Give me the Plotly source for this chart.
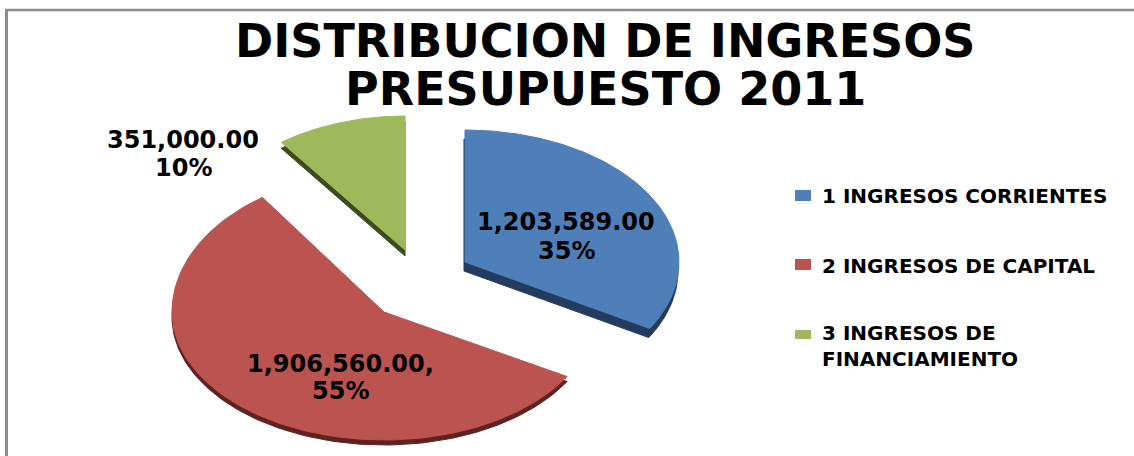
import numpy as np
import plotly.graph_objects as go

categories = ["1 INGRESOS CORRIENTES", "2 INGRESOS DE CAPITAL", "3 INGRESOS DE<br>FINANCIAMIENTO"]
values = [1203589.0, 1906560.0, 351000.0]
percent_labels = ["35%", "55%", "10%"]
label_suffix = ["", ",", ""]
title_lines = ["DISTRIBUCION DE INGRESOS", "PRESUPUESTO 2011"]

face_colors = ["#4F7FB8", "#BB5350", "#9DB95C"]
side_colors = ["#223B5E", "#5E2220", "#3F4A20"]
# slice geometry in plot units: centre, x radius, upper and lower y radius
ellipse = [(465, 262, 214, 132, 132), (384, 312, 212, 140, 128), (405, 250, 208, 134, 134)]
# angular skew (degrees) applied on the right and left half of the turn
skew = [(6.0, 6.0), (6.0, 2.5), (0.0, 0.0)]
depth = [(-1, 9), (0, 5), (0, 6)]
label_x = [566, 340, 183]
label_y = [(222, 251), (364, 391), (140, 168)]
legend_y = [196, 266, 346]
swatch_h = [(190, 201), (259, 270), (330, 339)]

fracs = np.array(values) / sum(values)
edges = np.concatenate([[0.0], np.cumsum(fracs) * 360.0])


def wedge(i, dx=0.0, dy=0.0):
    cx, cy, a, b_up, b_low = ellipse[i]
    t = np.radians(np.linspace(edges[i], edges[i + 1], 160))
    k = np.where(np.sin(t) >= 0, skew[i][0], skew[i][1])
    t = t - np.radians(k) * np.sin(t)
    xs = cx + a * np.sin(t) + dx
    ys = cy - np.where(np.cos(t) >= 0, b_up, b_low) * np.cos(t) + dy
    return np.r_[cx + dx, xs, cx + dx], np.r_[cy + dy, ys, cy + dy]


def bold(text):
    return "<br>".join(f"<b>{part}</b>" for part in text.split("<br>"))


fig = go.Figure()
for i in range(3):
    x, y = wedge(i, *depth[i])
    fig.add_trace(go.Scatter(x=x, y=y, mode="lines", fill="toself", fillcolor=side_colors[i],
                             line=dict(color=side_colors[i], width=1), hoverinfo="skip", showlegend=False))
for i in range(3):
    x, y = wedge(i)
    fig.add_trace(go.Scatter(x=x, y=y, mode="lines", fill="toself", fillcolor=face_colors[i],
                             line=dict(color=face_colors[i], width=1), name=categories[i], showlegend=False))

ann = []
for i in range(3):
    lines = [f"{values[i]:,.2f}{label_suffix[i]}", percent_labels[i]]
    for line, ly in zip(lines, label_y[i]):
        ann.append(dict(x=label_x[i], y=ly, text=f"<b>{line}</b>",
                        showarrow=False, xanchor="center", yanchor="middle",
                        font=dict(family="DejaVu Sans", size=24, color="#000000")))
    ann.append(dict(x=820, y=legend_y[i], text=bold(categories[i]),
                    showarrow=False, xanchor="left", yanchor="middle", align="left",
                    font=dict(family="DejaVu Sans", size=20, color="#000000")))
for line, ty in zip(title_lines, [41, 89]):
    ann.append(dict(x=605, y=ty, text=f"<b>{line}</b>", showarrow=False, xanchor="center", yanchor="middle",
                    font=dict(family="DejaVu Sans", size=46, color="#000000")))

shapes = [dict(type="rect", x0=795, x1=811, y0=swatch_h[i][0], y1=swatch_h[i][1],
               fillcolor=face_colors[i], line=dict(width=0), layer="above") for i in range(3)]
shapes.append(dict(type="line", x0=6.5, x1=6.5, y0=9, y1=456, line=dict(color="#8C8C8C", width=3)))
shapes.append(dict(type="line", x0=5, x1=1134, y0=10, y1=10, line=dict(color="#8C8C8C", width=2.5)))

fig.update_layout(
    width=1134, height=456, margin=dict(l=0, r=0, t=0, b=0),
    paper_bgcolor="white", plot_bgcolor="white", showlegend=False,
    xaxis=dict(range=[0, 1134], visible=False, fixedrange=True),
    yaxis=dict(range=[456, 0], visible=False, fixedrange=True),
    annotations=ann, shapes=shapes,
)
fig.write_html("out.html", config={"displayModeBar": False},
               post_script="document.body.style.margin='0';document.body.style.overflow='hidden';")
